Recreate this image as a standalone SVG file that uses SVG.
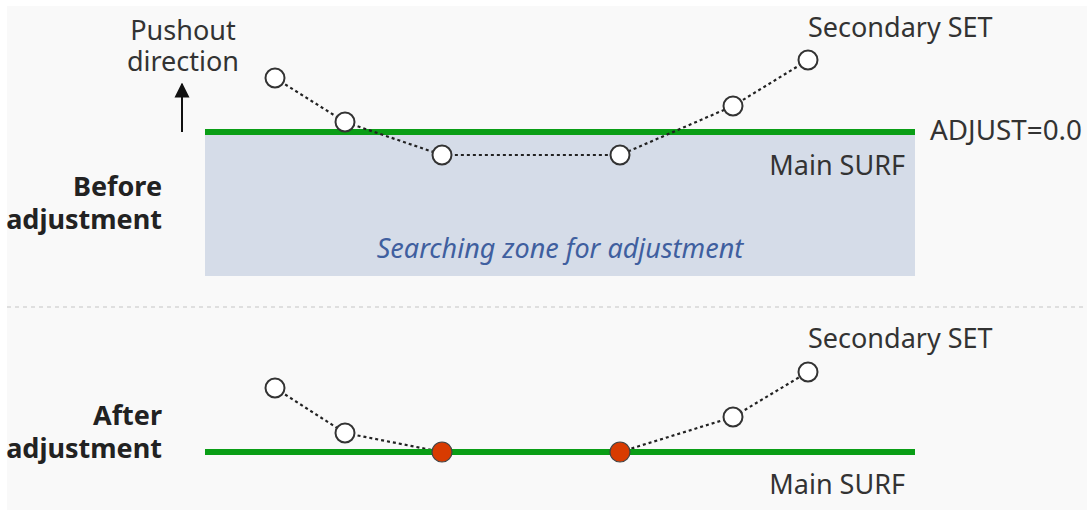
<svg xmlns="http://www.w3.org/2000/svg" width="1087" height="510" viewBox="0 0 1087 510">
  <style>
    .lbl { font-family: "Noto Sans", "Open Sans", sans-serif; font-size: 27px; fill: #333; }
    .bold { font-family: "Noto Sans", "Open Sans", sans-serif; font-size: 27px; font-weight: bold; fill: #222; }
    .zone { font-family: "Noto Sans", "Open Sans", sans-serif; font-size: 27px; font-style: italic; fill: #3f5f9f; }
    .surf { stroke: #0a9e16; stroke-width: 6; }
    .link { stroke: #222; stroke-width: 2.2; stroke-dasharray: 3 3; fill: none; }
    .pt { fill: #fff; stroke: #333; stroke-width: 2; }
    .pt-moved { fill: #d83b01; stroke: #444; stroke-width: 1.2; }
  </style>
  <defs>
    <marker id="arrowhead" viewBox="0 0 10 10" refX="9" refY="5" markerWidth="15" markerHeight="17" markerUnits="userSpaceOnUse" orient="auto">
      <path d="M0,0 L10,5 L0,10 Z" fill="#111"/>
    </marker>
  </defs>

  <rect x="7" y="6" width="1080" height="504" fill="#f9f9f9"/>

  <!-- separator between the two states -->
  <line x1="7" y1="307" x2="1087" y2="307" stroke="#d6d6d6" stroke-width="1.5" stroke-dasharray="4 4"/>

  <!-- before adjustment -->
  <g id="zone-before">
    <rect x="205" y="132" width="710" height="144" fill="#d5dce8"/>
    <text class="zone" x="560" y="258" text-anchor="middle">Searching zone for adjustment</text>
  </g>
  <g id="surf-before">
    <line class="surf" x1="205" y1="132" x2="915" y2="132"/>
    <text class="lbl" x="905" y="175" text-anchor="end">Main SURF</text>
    <text class="lbl" x="930" y="140" textLength="152" lengthAdjust="spacingAndGlyphs">ADJUST=0.0</text>
  </g>
  <g id="pushout">
    <line x1="182" y1="132" x2="182" y2="84" stroke="#111" stroke-width="2" marker-end="url(#arrowhead)"/>
    <text class="lbl" x="183" y="40" text-anchor="middle">Pushout</text>
    <text class="lbl" x="183" y="71" text-anchor="middle">direction</text>
  </g>
  <g id="label-before">
    <text class="bold" x="162" y="196" text-anchor="end">Before</text>
    <text class="bold" x="162" y="229" text-anchor="end">adjustment</text>
  </g>

  <g id="connectors">
    <polyline class="link" points="275,78 345,122 442,155 620,155 733,106 808,60"/>
    <polyline class="link" points="275,388 345,433 442,452 620,452 733,417 808,372"/>
  </g>

  <g id="set-before">
    <circle class="pt" cx="275" cy="78" r="9.5"/>
    <circle class="pt" cx="345" cy="122" r="9.5"/>
    <circle class="pt" cx="442" cy="155" r="9.5"/>
    <circle class="pt" cx="620" cy="155" r="9.5"/>
    <circle class="pt" cx="733" cy="106" r="9.5"/>
    <circle class="pt" cx="808" cy="60" r="9.5"/>
    <text class="lbl" x="808" y="37">Secondary SET</text>
  </g>

  <!-- after adjustment -->
  <g id="surf-after">
    <line class="surf" x1="205" y1="452" x2="915" y2="452"/>
    <text class="lbl" x="905" y="494" text-anchor="end">Main SURF</text>
  </g>
  <g id="label-after">
    <text class="bold" x="162" y="425" text-anchor="end">After</text>
    <text class="bold" x="162" y="458" text-anchor="end">adjustment</text>
  </g>
  <g id="set-after">
    <circle class="pt" cx="275" cy="388" r="9.5"/>
    <circle class="pt" cx="345" cy="433" r="9.5"/>
    <circle class="pt-moved" cx="442" cy="452" r="10"/>
    <circle class="pt-moved" cx="620" cy="452" r="10"/>
    <circle class="pt" cx="733" cy="417" r="9.5"/>
    <circle class="pt" cx="808" cy="372" r="9.5"/>
    <text class="lbl" x="808" y="348">Secondary SET</text>
  </g>
</svg>
